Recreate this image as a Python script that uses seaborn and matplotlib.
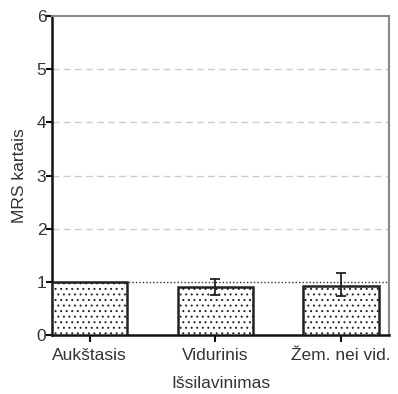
import matplotlib
matplotlib.use("Agg")
import matplotlib.pyplot as plt
import seaborn as sns
import pandas as pd

categories = ["Aukštasis", "Vidurinis", "Žem. nei vid."]
values = [1.0, 0.90, 0.93]
err_low = [None, 0.76, 0.73]
err_high = [None, 1.06, 1.17]
yticks = [0, 1, 2, 3, 4, 5, 6]

sns.set_theme(style="white")
plt.rcParams['font.family'] = ['Liberation Sans', 'DejaVu Sans']
plt.rcParams['hatch.linewidth'] = 0.7
plt.rcParams['hatch.color'] = "#333333"

df = pd.DataFrame({"cat": categories, "val": values})

fig = plt.figure(figsize=(3.98, 3.94), dpi=100)
ax = fig.add_axes([52/398, 1 - 335/394, (389-52)/398, (335-16)/394])

sns.barplot(data=df, x="cat", y="val", ax=ax, color="white", edgecolor="#222222",
            linewidth=1.8, width=0.6, errorbar=None, zorder=3)
for p in ax.patches:
    p.set_hatch("...")

for i, (lo, hi) in enumerate(zip(err_low, err_high)):
    if lo is None:
        continue
    ax.errorbar([i], [values[i]], yerr=[[values[i]-lo], [hi-values[i]]], fmt="none",
                ecolor="#222222", elinewidth=1.3, capsize=3.5, capthick=1.3, zorder=4)

ax.axhline(1.0, color="#333333", linestyle=(0, (1, 1.5)), linewidth=1.0, zorder=2)
for g in [2, 3, 4, 5]:
    ax.axhline(g, color="#cccccc", linestyle=(0, (5, 3)), linewidth=1.0, zorder=1)

ax.set_ylim(0, 6)
ax.set_xlim(-0.3, 2.38)
ax.set_yticks(yticks)
ax.set_yticklabels([str(t) for t in yticks])

for side in ["left", "bottom"]:
    ax.spines[side].set_color("#111111")
    ax.spines[side].set_linewidth(1.8)
for side in ["top", "right"]:
    ax.spines[side].set_color("#888888")
    ax.spines[side].set_linewidth(1.5)
    ax.spines[side].set_visible(True)

ax.tick_params(axis="both", which="major", direction="out", length=4, width=1.5,
               color="#111111", labelsize=12.5, labelcolor="#333333", pad=0)
ax.tick_params(axis="x", length=5, pad=4)
ax.tick_params(left=True, bottom=True)

ax.set_xlabel("Išsilavinimas", fontsize=12.5, color="#333333", labelpad=10)
ax.set_ylabel("MRS kartais", fontsize=12.5, color="#333333", labelpad=7)

fig.savefig("out.png", dpi=100)
